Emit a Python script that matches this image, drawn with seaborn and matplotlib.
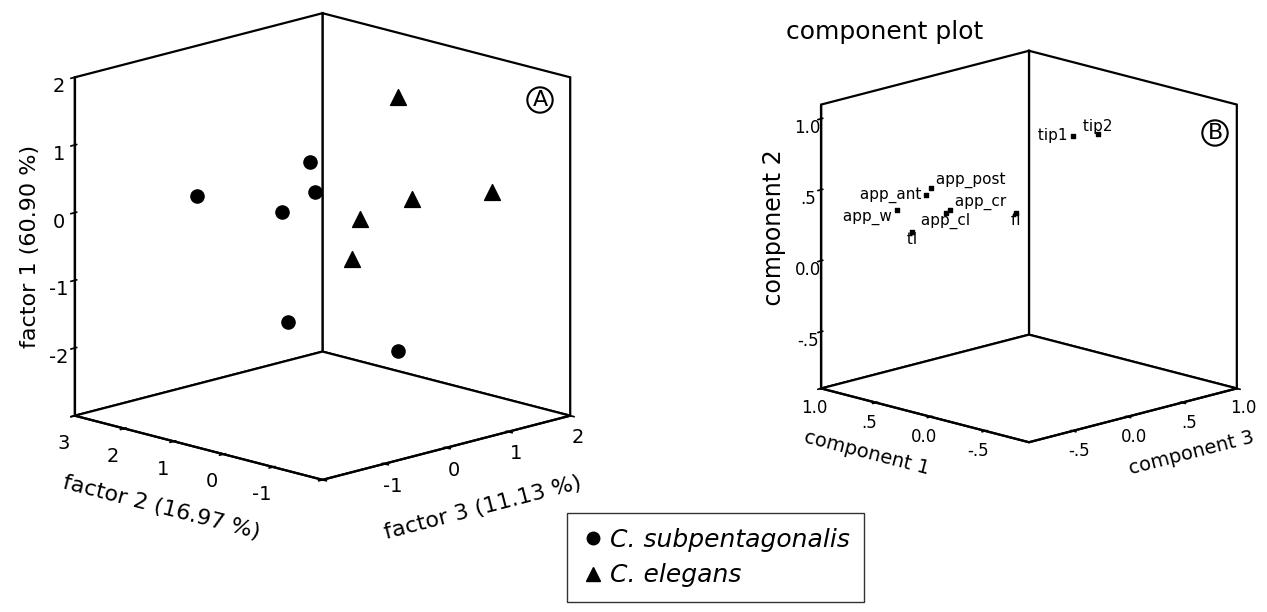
import itertools
import numpy as np
import pandas as pd
import matplotlib
matplotlib.use("Agg")
import matplotlib.pyplot as plt
import seaborn as sns
from mpl_toolkits.mplot3d import proj3d
from matplotlib.lines import Line2D

# =======================================================
#   DATOS
# =======================================================

# Panel A: puntuaciones factoriales (factor 3 -> x, factor 2 -> y, factor 1 -> z)
especie = ["C. subpentagonalis"] * 6 + ["C. elegans"] * 5
factor3 = [-1.22, -0.20, -0.36, -0.41, -0.47, 0.42, 0.42, 0.41, 1.38, -0.03, 0.08]
factor2 = [1.50, 0.50, 0.20, 0.80, 0.60, -0.50, -0.50, -0.80, -1.20, -0.30, 0.00]
factor1 = [0.35, 0.80, 0.45, 0.05, -1.53, -1.96, 1.80, 0.35, 0.30, 0.06, -0.61]

# Panel B: cargas de las variables (componente 3 -> x, componente 1 -> y, componente 2 -> z)
variables = ["app_ant", "app_post", "app_cr", "app_w", "app_cl", "tl", "fl", "tip1", "tip2"]
comp1 = [0.85, 0.88, 0.80, 0.90, 0.82, 0.86, 0.70, 0.15, 0.10]
comp3 = [-0.09, -0.02, 0.08, -0.31, 0.06, -0.21, 0.58, 0.55, 0.73]
comp2 = [0.33, 0.36, 0.20, 0.26, 0.18, 0.09, 0.10, 0.76, 0.75]
# posicion de la etiqueta respecto al punto
etiqueta_ha = ["right", "left", "left", "right", "center", "center", "center", "right", "center"]
etiqueta_va = ["center", "bottom", "bottom", "top", "top", "top", "top", "center", "bottom"]

df_a = pd.DataFrame({"especie": especie, "f1": factor1, "f2": factor2, "f3": factor3})
df_b = pd.DataFrame({"var": variables, "c1": comp1, "c2": comp2, "c3": comp3})

# =======================================================
#   ESTILO
# =======================================================

sns.set_theme(style="white")
plt.rcParams["font.family"] = ["DejaVu Sans"]
plt.rcParams["axes.unicode_minus"] = False
for clave in ("text.color", "axes.labelcolor", "xtick.color", "ytick.color"):
    plt.rcParams[clave] = "black"

W, H = 1267, 612
fig = plt.figure(figsize=(W / 100, H / 100), dpi=100)
fig.patch.set_facecolor("white")


def estilo_caja(ax):
    ax.grid(False)
    ax.set_facecolor("white")
    for eje in (ax.xaxis, ax.yaxis, ax.zaxis):
        eje.set_pane_color((1, 1, 1, 1))
        eje.pane.set_edgecolor("black")
        eje.pane.set_linewidth(1.6)
        eje.pane.set_closed(True)
        eje.line.set_color("black")
        eje.line.set_linewidth(1.6)
        eje.offsetText.set_visible(False)


def encajar(ax, caja, pasos=3):
    """Ajusta la posicion del eje 3D para que la caja proyectada ocupe caja=(x0,x1,ytop,ybot) en px."""
    x0, x1, yt, yb = caja
    for _ in range(pasos):
        fig.canvas.draw()
        lims = (ax.get_xlim3d(), ax.get_ylim3d(), ax.get_zlim3d())
        pts = np.array(list(itertools.product(*lims))).T
        px, py, _ = proj3d.proj_transform(pts[0], pts[1], pts[2], ax.M)
        d = ax.transData.transform(np.column_stack([px, py]))
        w = d[:, 0].max() - d[:, 0].min()
        h = d[:, 1].max() - d[:, 1].min()
        s = ((x1 - x0) / w + (yb - yt) / h) / 2
        cx = (d[:, 0].max() + d[:, 0].min()) / 2
        cy = (d[:, 1].max() + d[:, 1].min()) / 2
        tx, ty = (x0 + x1) / 2, H - (yt + yb) / 2
        pos = ax.get_position()
        pw, ph = pos.width * W * s, pos.height * H * s
        pcx, pcy = (pos.x0 + pos.width / 2) * W, (pos.y0 + pos.height / 2) * H
        ncx = tx - (cx - pcx) * s
        ncy = ty - (cy - pcy) * s
        ax.set_position([(ncx - pw / 2) / W, (ncy - ph / 2) / H, pw / W, ph / H])


# =======================================================
#   PANEL A
# =======================================================

axA = fig.add_axes([0.0, 0.0, 600 / W, 600 / H], projection="3d", proj_type="ortho")
axA.view_init(elev=15, azim=-135)
axA.set_box_aspect((1, 1, 1))
estilo_caja(axA)

marcadores = {"C. subpentagonalis": ("o", 90), "C. elegans": ("^", 130)}
for sp, (m, s) in marcadores.items():
    sub = df_a[df_a["especie"] == sp]
    axA.scatter(sub["f3"], sub["f2"], sub["f1"], marker=m, s=s, c="black",
                depthshade=False, edgecolors="black")

axA.set_xlim(-2, 2)
axA.set_ylim(-2, 3)
axA.set_zlim(-3, 2)
axA.set_xticks([-2, -1, 0, 1, 2])
axA.set_xticklabels(["", "-1", "0", "1", "2"])
axA.set_yticks([-2, -1, 0, 1, 2, 3])
axA.set_yticklabels(["", "-1", "0", "1", "2", "3"])
axA.set_zticks([-3, -2, -1, 0, 1, 2])
axA.set_zticklabels(["", "-2", "-1", "0", "1", "2"])
axA.tick_params(axis="both", labelsize=14, colors="black")
axA.xaxis.set_tick_params(pad=-1)
axA.yaxis.set_tick_params(pad=2)
axA.zaxis.set_tick_params(pad=-1)
axA.set_xlabel("factor 3 (11.13 %)", fontsize=16, labelpad=12)
axA.set_ylabel("factor 2 (16.97 %)", fontsize=16, labelpad=12)
axA.set_zlabel("factor 1 (60.90 %)", fontsize=16, labelpad=-1)

# =======================================================
#   PANEL B
# =======================================================

axB = fig.add_axes([0.55, 0.0, 500 / W, 500 / H], projection="3d", proj_type="ortho")
axB.view_init(elev=15, azim=-135)
axB.set_box_aspect((1, 1, 1))
estilo_caja(axB)

axB.scatter(df_b["c3"], df_b["c1"], df_b["c2"], marker="s", s=8, c="black", depthshade=False)

axB.set_xlim(-0.9, 1.0)
axB.set_ylim(-0.9, 1.0)
axB.set_zlim(-0.9, 1.1)
ticks_b = [-0.5, 0.0, 0.5, 1.0]
etiquetas_b = ["-.5", "0.0", ".5", "1.0"]
axB.set_xticks(ticks_b)
axB.set_xticklabels(etiquetas_b)
axB.set_yticks(ticks_b)
axB.set_yticklabels(etiquetas_b)
axB.set_zticks(ticks_b)
axB.set_zticklabels(etiquetas_b)
axB.tick_params(axis="both", labelsize=12, pad=-2, colors="black")
# espacios para desplazar la etiqueta hacia el extremo del eje, como en el original
axB.set_xlabel("          component 3", fontsize=14, labelpad=4)
axB.set_ylabel("component 1          ", fontsize=14, labelpad=4)
axB.set_zlabel("     component 2", fontsize=17, labelpad=0)

encajar(axA, (75, 570, 13, 480))
encajar(axB, (822, 1236, 50, 443))

# etiquetas de las variables: se proyectan los puntos 3D y se escriben en 2D
fig.canvas.draw()
px, py, _ = proj3d.proj_transform(df_b["c3"].to_numpy(), df_b["c1"].to_numpy(),
                                  df_b["c2"].to_numpy(), axB.M)
for i, nombre in enumerate(variables):
    axB.text2D(px[i], py[i], " " + nombre + " ", transform=axB.transData,
               ha=etiqueta_ha[i], va=etiqueta_va[i], fontsize=11)

# textos sueltos
circulo = dict(boxstyle="circle,pad=0.12", fc="white", ec="black", lw=1.5)
fig.text(540 / W, 1 - 100 / H, "A", ha="center", va="center", fontsize=16, bbox=circulo)
fig.text(1215 / W, 1 - 133 / H, "B", ha="center", va="center", fontsize=16, bbox=circulo)
fig.text(786 / W, 1 - 32 / H, "component plot", ha="left", va="center", fontsize=18)

# leyenda
manejadores = [
    Line2D([], [], marker="o", ls="", color="black", ms=9),
    Line2D([], [], marker="^", ls="", color="black", ms=10),
]
fig.legend(manejadores, ["C. subpentagonalis", "C. elegans"],
           loc="upper left", bbox_to_anchor=(567 / W, 1 - 513 / H), borderaxespad=0,
           prop={"style": "italic", "size": 18}, frameon=True, fancybox=False,
           edgecolor="black", handletextpad=0.2, borderpad=0.6, labelspacing=0.45,
           handlelength=0.9)

plt.savefig("out.png", dpi=100)
